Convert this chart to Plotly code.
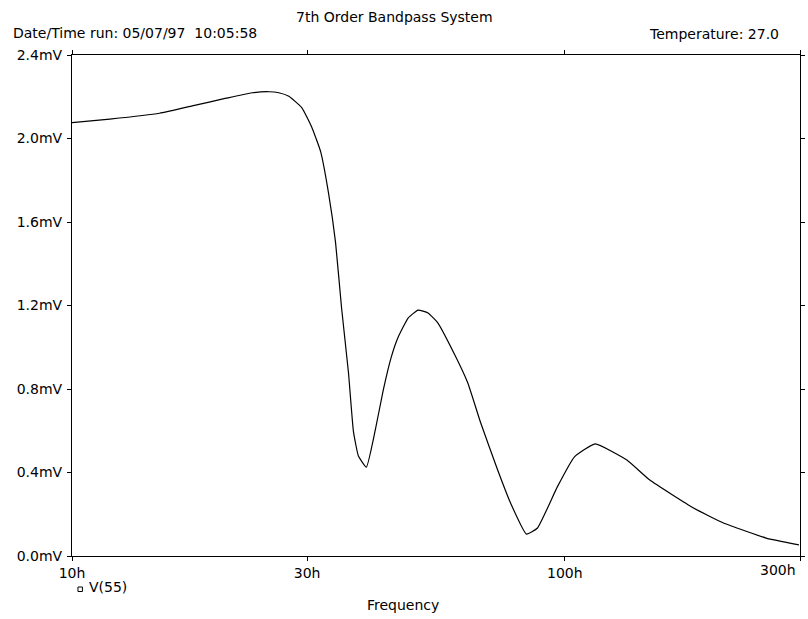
import numpy as np
import plotly.graph_objects as go

# ---- data ----
freq_hz = [10.0, 11.93, 15.05, 17.54, 20.55, 23.19, 25.09, 26.28, 27.54, 29.25,
           30.64, 31.95, 33.17, 34.26, 35.23, 36.39, 37.24, 38.12, 39.56, 41.25,
           42.81, 44.44, 45.91, 48.08, 50.37, 52.77, 55.27, 59.82, 63.55, 67.51,
           73.06, 77.59, 83.58, 87.99, 96.54, 104.5, 115.2, 133.6, 148.7, 182.4,
           209.8, 256.1, 298.5]
v55_mv = [2.076, 2.093, 2.121, 2.156, 2.193, 2.219, 2.224, 2.219, 2.202, 2.148,
          2.055, 1.937, 1.735, 1.501, 1.189, 0.878, 0.597, 0.479, 0.426, 0.604,
          0.795, 0.953, 1.049, 1.140, 1.178, 1.164, 1.116, 0.963, 0.829, 0.637,
          0.412, 0.254, 0.105, 0.134, 0.331, 0.474, 0.537, 0.460, 0.364, 0.230,
          0.158, 0.086, 0.053]

x_tick_vals = [10, 30, 100, 300]
x_tick_text = ["10h", "30h", "100h", "300h"]
y_tick_vals = [0.0, 0.4, 0.8, 1.2, 1.6, 2.0, 2.4]
y_tick_text = ["0.0mV", "0.4mV", "0.8mV", "1.2mV", "1.6mV", "2.0mV", "2.4mV"]

title_text = "7th Order Bandpass System"
date_text = "Date/Time run: 05/07/97  10:05:58"
temp_text = "Temperature: 27.0"
trace_name = "V(55)"
x_title = "Frequency"

# ---- layout geometry (pixels) ----
W, H = 808, 619
L, R, T, B = 72, 805, 55, 556
FONT = "DejaVu Sans"
FS = 14


def px(p):
    return (p - L) / (R - L)


def py(p):
    return (B - p) / (B - T)


fig = go.Figure()
fig.add_trace(go.Scatter(
    x=freq_hz, y=v55_mv, mode="lines", name=trace_name,
    line=dict(color="black", width=1.2, shape="spline", smoothing=0.4),
    showlegend=False,
))

axis_common = dict(
    showline=True, linecolor="black", linewidth=1, mirror="allticks",
    ticks="outside", ticklen=4, tickcolor="black", tickwidth=1,
    showgrid=False, zeroline=False,
    tickfont=dict(family=FONT, size=FS, color="black"),
)

fig.update_xaxes(type="log", range=[np.log10(10), np.log10(300)],
                 tickmode="array", tickvals=x_tick_vals,
                 ticktext=x_tick_text[:-1] + [""], **axis_common)
fig.update_yaxes(range=[0, 2.4], tickmode="array", tickvals=y_tick_vals,
                 ticktext=y_tick_text, ticklabelstandoff=2, **axis_common)

ann_font = dict(family=FONT, size=FS, color="black")
annotations = [
    dict(text=title_text, xref="paper", yref="paper", x=px(397), y=py(17.5),
         xanchor="center", yanchor="middle", showarrow=False, font=ann_font),
    dict(text=date_text, xref="paper", yref="paper", x=px(11), y=py(33),
         xanchor="left", yanchor="middle", showarrow=False, font=ann_font),
    dict(text=temp_text, xref="paper", yref="paper", x=px(786), y=py(34),
         xanchor="right", yanchor="middle", showarrow=False, font=ann_font),
    dict(text=x_tick_text[-1], xref="paper", yref="paper", x=px(803), y=py(570),
         xanchor="right", yanchor="middle", showarrow=False, font=ann_font),
    dict(text=trace_name, xref="paper", yref="paper", x=px(87), y=py(587),
         xanchor="left", yanchor="middle", showarrow=False, font=ann_font),
    dict(text=x_title, xref="paper", yref="paper", x=px(405), y=py(605),
         xanchor="center", yanchor="middle", showarrow=False, font=ann_font),
]

shapes = [
    dict(type="rect", xref="paper", yref="paper",
         x0=px(78), x1=px(82.5), y0=py(591.5), y1=py(587),
         line=dict(color="black", width=1), fillcolor="white"),
]

fig.update_layout(
    width=W, height=H,
    margin=dict(l=L, r=W - R, t=T, b=H - B),
    paper_bgcolor="white", plot_bgcolor="white",
    font=dict(family=FONT, size=FS, color="black"),
    annotations=annotations, shapes=shapes,
)

fig.write_html(
    "out.html",
    config={"displayModeBar": False},
    post_script="document.body.style.margin='0';document.body.style.overflow='hidden';",
)
